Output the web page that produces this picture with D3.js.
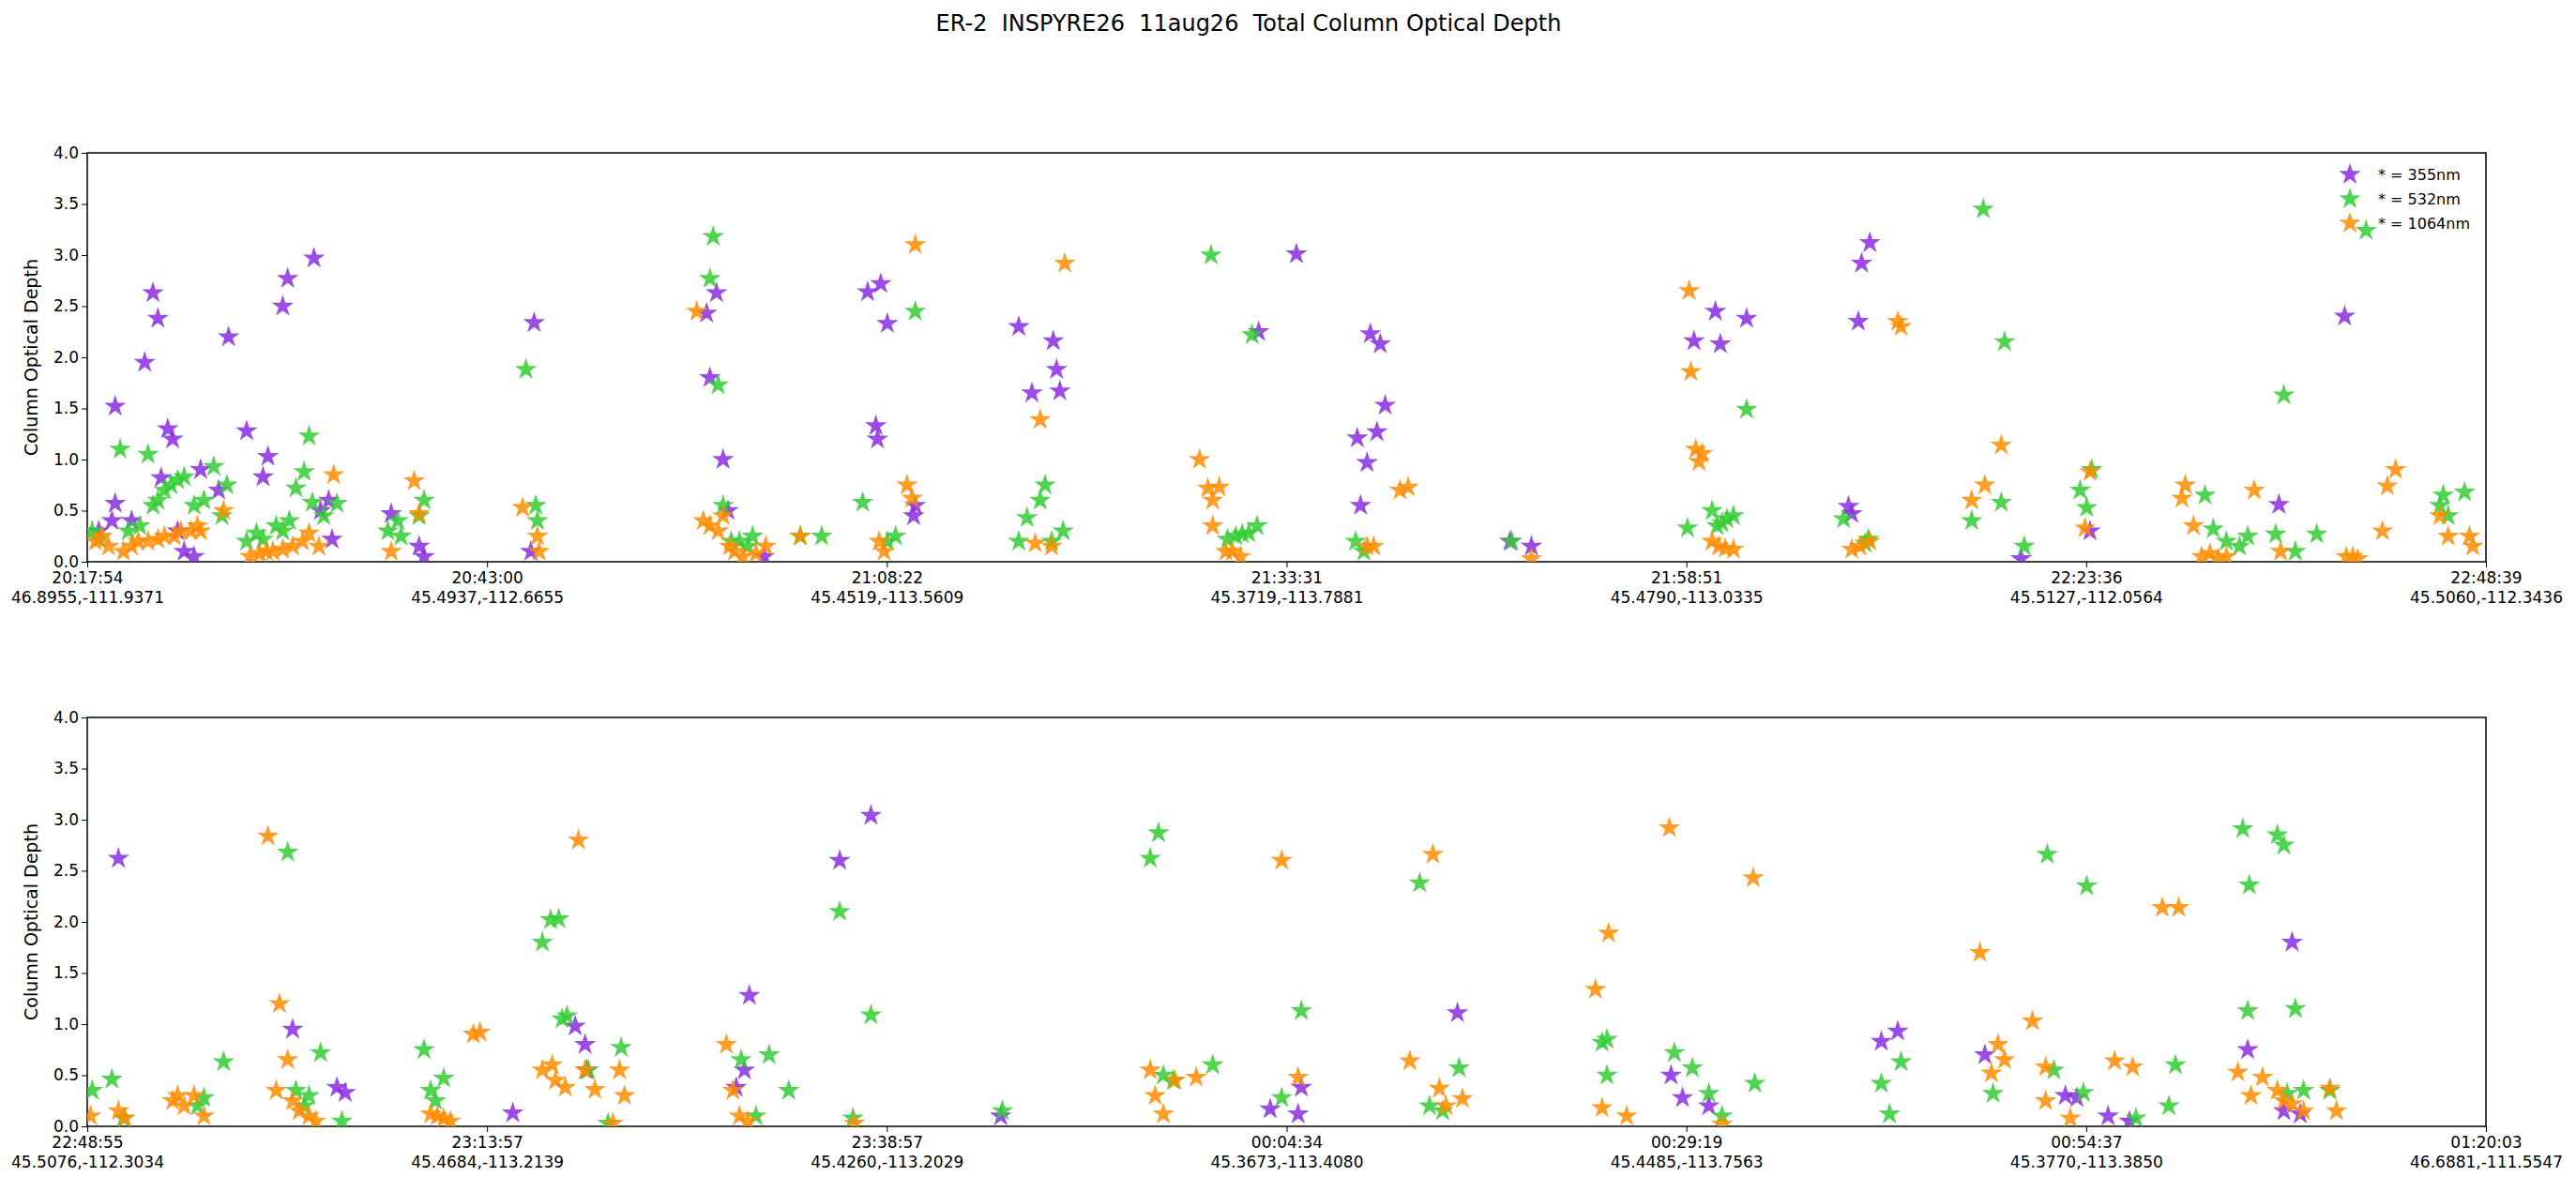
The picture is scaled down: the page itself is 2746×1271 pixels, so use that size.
<!DOCTYPE html>
<html>
<head>
<meta charset="utf-8">
<script src="https://cdn.jsdelivr.net/npm/d3@7"></script>
<style>
  body { margin: 0; background: #fff; }
  text { font-family: "DejaVu Sans", sans-serif; }
</style>
</head>
<body>
<svg id="chart" width="2746" height="1271"></svg>
<script>
// x = sample index along the flight leg, y = column optical depth
var top355 = [[7,0.3],[15,0.4],[17,0.57],[17,1.52],[27,0.4],[35,1.95],[40,2.63],[43,2.38],[45,0.82],[49,1.3],[52,1.2],[55,0.3],[59,0.1],[65,0.05],[69,0.9],[80,0.7],[86,2.2],[97,1.28],[107,0.83],[110,1.03],[119,2.5],[122,2.77],[138,2.97],[142,0.5],[147,0.6],[149,0.22],[185,0.47],[202,0.15],[205,0.05],[272,2.34],[270,0.1],[377,2.43],[379,1.8],[383,2.63],[387,1.0],[390,0.5],[412,0.05],[475,2.64],[480,1.33],[481,1.2],[483,2.72],[487,2.33],[503,0.45],[504,0.55],[567,2.3],[575,1.65],[588,2.16],[590,1.88],[592,1.67],[713,2.25],[736,3.01],[773,1.21],[779,0.97],[781,2.23],[785,1.27],[787,2.13],[790,1.53],[775,0.55],[866,0.2],[879,0.15],[978,2.16],[991,2.45],[994,2.13],[1010,2.38],[1072,0.54],[1074,0.47],[1078,2.35],[1080,2.92],[1085,3.12],[1177,0.03],[1219,0.3],[1334,0.56],[1374,2.4]];
var top532 = [[3,0.3],[7,0.22],[20,1.1],[25,0.3],[32,0.35],[37,1.05],[40,0.55],[43,0.6],[47,0.7],[51,0.75],[55,0.8],[59,0.83],[65,0.55],[71,0.6],[77,0.93],[85,0.75],[82,0.45],[97,0.2],[103,0.28],[107,0.22],[115,0.35],[119,0.3],[123,0.4],[127,0.72],[132,0.88],[135,1.23],[137,0.58],[144,0.45],[152,0.57],[183,0.3],[189,0.4],[191,0.25],[202,0.45],[205,0.6],[267,1.88],[273,0.55],[274,0.4],[379,2.77],[381,3.18],[384,1.73],[387,0.55],[392,0.2],[397,0.2],[402,0.15],[405,0.25],[434,0.25],[447,0.25],[472,0.58],[487,0.2],[504,2.45],[492,0.25],[567,0.2],[572,0.43],[580,0.6],[583,0.75],[587,0.2],[594,0.3],[684,3.0],[694,0.22],[699,0.25],[703,0.27],[707,0.28],[712,0.35],[709,2.22],[772,0.2],[777,0.1],[867,0.2],[974,0.33],[989,0.5],[992,0.35],[995,0.38],[998,0.42],[1002,0.45],[1010,1.49],[1069,0.42],[1082,0.18],[1084,0.22],[1154,3.45],[1147,0.4],[1165,0.58],[1167,2.15],[1179,0.15],[1213,0.7],[1217,0.53],[1220,0.9],[1289,0.65],[1294,0.32],[1302,0.2],[1310,0.15],[1315,0.25],[1332,0.27],[1337,1.63],[1344,0.1],[1357,0.27],[1387,3.24],[1432,0.55],[1434,0.65],[1447,0.68],[1437,0.45]];
var top1064 = [[5,0.2],[9,0.25],[13,0.15],[22,0.1],[27,0.15],[31,0.2],[37,0.2],[43,0.22],[47,0.25],[53,0.25],[57,0.3],[63,0.3],[67,0.35],[69,0.3],[83,0.5],[99,0.05],[105,0.08],[109,0.1],[113,0.1],[119,0.12],[125,0.15],[131,0.2],[135,0.28],[141,0.15],[150,0.85],[185,0.1],[199,0.79],[202,0.47],[265,0.53],[274,0.25],[275,0.1],[371,2.45],[375,0.4],[379,0.35],[384,0.3],[387,0.45],[391,0.15],[394,0.1],[399,0.05],[407,0.08],[413,0.15],[434,0.25],[482,0.2],[485,0.1],[499,0.75],[502,0.62],[504,3.1],[577,0.18],[580,1.39],[587,0.15],[595,2.92],[677,1.0],[682,0.72],[685,0.35],[689,0.73],[685,0.6],[693,0.1],[697,0.1],[702,0.05],[779,0.15],[783,0.15],[799,0.7],[804,0.73],[879,0.03],[975,2.65],[976,1.86],[979,1.1],[981,0.98],[983,1.06],[989,0.2],[993,0.15],[997,0.13],[1002,0.12],[1074,0.12],[1079,0.15],[1085,0.2],[1102,2.35],[1104,2.3],[1147,0.6],[1155,0.75],[1165,1.14],[1216,0.33],[1219,0.88],[1275,0.62],[1277,0.75],[1282,0.35],[1287,0.05],[1292,0.08],[1297,0.03],[1302,0.05],[1319,0.7],[1335,0.1],[1375,0.05],[1379,0.05],[1382,0.03],[1397,0.3],[1400,0.74],[1405,0.9],[1432,0.45],[1437,0.25],[1450,0.25],[1452,0.15]];

var bot355 = [[19,2.62],[125,0.95],[152,0.38],[157,0.33],[259,0.13],[297,0.98],[303,0.8],[304,0.55],[395,0.38],[400,0.55],[403,1.28],[458,2.6],[477,3.04],[556,0.1],[720,0.17],[737,0.12],[739,0.38],[834,1.11],[964,0.5],[971,0.28],[987,0.2],[1092,0.83],[1102,0.93],[1155,0.7],[1204,0.3],[1211,0.28],[1230,0.1],[1243,0.05],[1315,0.75],[1342,1.8],[1337,0.15],[1347,0.12]];
var bot532 = [[3,0.35],[15,0.46],[22,0.08],[67,0.2],[71,0.28],[83,0.63],[122,2.68],[127,0.35],[132,0.2],[135,0.3],[142,0.72],[155,0.05],[205,0.75],[209,0.35],[212,0.25],[217,0.47],[277,1.8],[282,2.02],[287,2.03],[289,1.05],[292,1.08],[305,0.55],[325,0.77],[317,0.03],[398,0.65],[407,0.1],[415,0.7],[427,0.35],[458,2.1],[466,0.08],[477,1.09],[557,0.15],[647,2.62],[652,2.87],[655,0.5],[661,0.45],[685,0.6],[727,0.28],[739,1.13],[811,2.38],[817,0.2],[825,0.15],[835,0.57],[922,0.82],[925,0.85],[925,0.5],[966,0.72],[977,0.57],[987,0.32],[995,0.1],[1015,0.42],[1092,0.42],[1097,0.12],[1104,0.63],[1160,0.32],[1193,2.66],[1197,0.55],[1217,2.35],[1215,0.33],[1247,0.08],[1267,0.2],[1271,0.6],[1312,2.91],[1316,2.36],[1315,1.13],[1333,2.85],[1337,2.75],[1344,1.15],[1339,0.32],[1349,0.35],[1365,0.35]];
var bot1064 = [[2,0.1],[19,0.15],[23,0.08],[52,0.25],[55,0.3],[59,0.2],[65,0.3],[71,0.1],[110,2.84],[115,0.35],[117,1.2],[122,0.65],[125,0.25],[129,0.15],[135,0.1],[139,0.05],[209,0.12],[213,0.1],[217,0.08],[221,0.05],[235,0.9],[239,0.92],[277,0.55],[283,0.6],[285,0.45],[291,0.38],[299,2.8],[303,0.55],[309,0.36],[320,0.03],[324,0.55],[327,0.3],[389,0.8],[393,0.35],[397,0.1],[402,0.05],[467,0.03],[647,0.55],[650,0.3],[655,0.12],[662,0.45],[675,0.48],[727,2.6],[737,0.48],[805,0.64],[819,2.66],[823,0.37],[827,0.2],[837,0.27],[918,1.34],[922,0.18],[926,1.89],[937,0.1],[963,2.92],[995,0.02],[1014,2.43],[1152,1.7],[1159,0.52],[1163,0.8],[1167,0.65],[1184,1.03],[1192,0.58],[1192,0.25],[1207,0.08],[1234,0.64],[1245,0.58],[1263,2.14],[1273,2.14],[1309,0.53],[1317,0.3],[1324,0.48],[1333,0.35],[1337,0.25],[1342,0.22],[1349,0.15],[1365,0.37],[1369,0.15]];

var topTicks = ["20:17:54\n46.8955,-111.9371","20:43:00\n45.4937,-112.6655","21:08:22\n45.4519,-113.5609","21:33:31\n45.3719,-113.7881","21:58:51\n45.4790,-113.0335","22:23:36\n45.5127,-112.0564","22:48:39\n45.5060,-112.3436"];
var botTicks = ["22:48:55\n45.5076,-112.3034","23:13:57\n45.4684,-113.2139","23:38:57\n45.4260,-113.2029","00:04:34\n45.3673,-113.4080","00:29:19\n45.4485,-113.7563","00:54:37\n45.3770,-113.3850","01:20:03\n46.6881,-111.5547"];
var yTicks = [0, 0.5, 1, 1.5, 2, 2.5, 3, 3.5, 4];
var wavelengths = ["* = 355nm", "* = 532nm", "* = 1064nm"];
var colors = ["#8a2be2", "#32cd32", "#ff8c00"];

var svg = d3.select("#chart");
svg.append("text")
  .attr("x", 1331).attr("y", 33)
  .attr("text-anchor", "middle")
  .style("font-size", "24px")
  .style("white-space", "pre")
  .text("ER-2  INSPYRE26  11aug26  Total Column Optical Depth");

var star = d3.symbol().type(d3.symbolStar).size(170);

function panel(top, series, ticks, legend) {
  var left = 93, right = 2650, h = 436;
  var x = d3.scaleLinear().domain([0, 1460]).range([left, right]);
  var y = d3.scaleLinear().domain([0, 4]).range([top + h, top]);
  var g = svg.append("g");

  var yAxis = g.append("g")
    .attr("transform", "translate(" + left + ",0)")
    .call(d3.axisLeft(y).tickValues(yTicks).tickFormat(d3.format(".1f")).tickSizeOuter(0).tickSize(6));
  yAxis.selectAll("text").style("font-size", "17px").attr("font-family", "DejaVu Sans");

  var xAxis = g.append("g")
    .attr("transform", "translate(0," + (top + h) + ")")
    .call(d3.axisBottom(x).tickValues(d3.range(7).map(function(i){ return i * 1460 / 6; })).tickFormat("").tickSizeOuter(0).tickSize(6));
  xAxis.selectAll(".tick").each(function(d, i) {
    var t = d3.select(this).append("text")
      .attr("fill", "#000").attr("text-anchor", "middle")
      .style("font-size", "17px");
    ticks[i].split("\n").forEach(function(line, j) {
      t.append("tspan").attr("x", 0).attr("y", 23 + j * 21).text(line);
    });
  });
  g.selectAll(".domain").remove();
  g.append("rect")
    .attr("x", left).attr("y", top).attr("width", right - left).attr("height", h)
    .attr("fill", "none").attr("stroke", "#000").attr("stroke-width", 1.5);

  g.append("text")
    .attr("transform", "translate(40," + (top + h / 2) + ") rotate(-90)")
    .attr("text-anchor", "middle")
    .style("font-size", "19px")
    .text("Column Optical Depth");

  var clip = "clip" + top;
  g.append("clipPath").attr("id", clip).append("rect")
    .attr("x", left).attr("y", top).attr("width", right - left).attr("height", h);
  series.forEach(function(s, k) {
    g.append("g").attr("clip-path", "url(#" + clip + ")")
      .selectAll("path").data(s).enter().append("path")
      .attr("d", star)
      .attr("transform", function(d){ return "translate(" + x(d[0]) + "," + y(d[1]) + ")"; })
      .attr("fill", colors[k]).attr("fill-opacity", 0.85);
  });

  if (legend) {
    var lg = g.selectAll(".lg").data(wavelengths).enter().append("g")
      .attr("transform", function(d, i){ return "translate(2505," + (186 + i * 26) + ")"; });
    lg.append("path").attr("d", star).attr("fill", function(d, i){ return colors[i]; }).attr("fill-opacity", 0.85);
    lg.append("text").attr("x", 30).attr("y", 6).style("font-size", "16px").text(function(d){ return d; });
  }
}

panel(163, [top355, top532, top1064], topTicks, true);
panel(765, [bot355, bot532, bot1064], botTicks, false);
</script>
</body>
</html>
